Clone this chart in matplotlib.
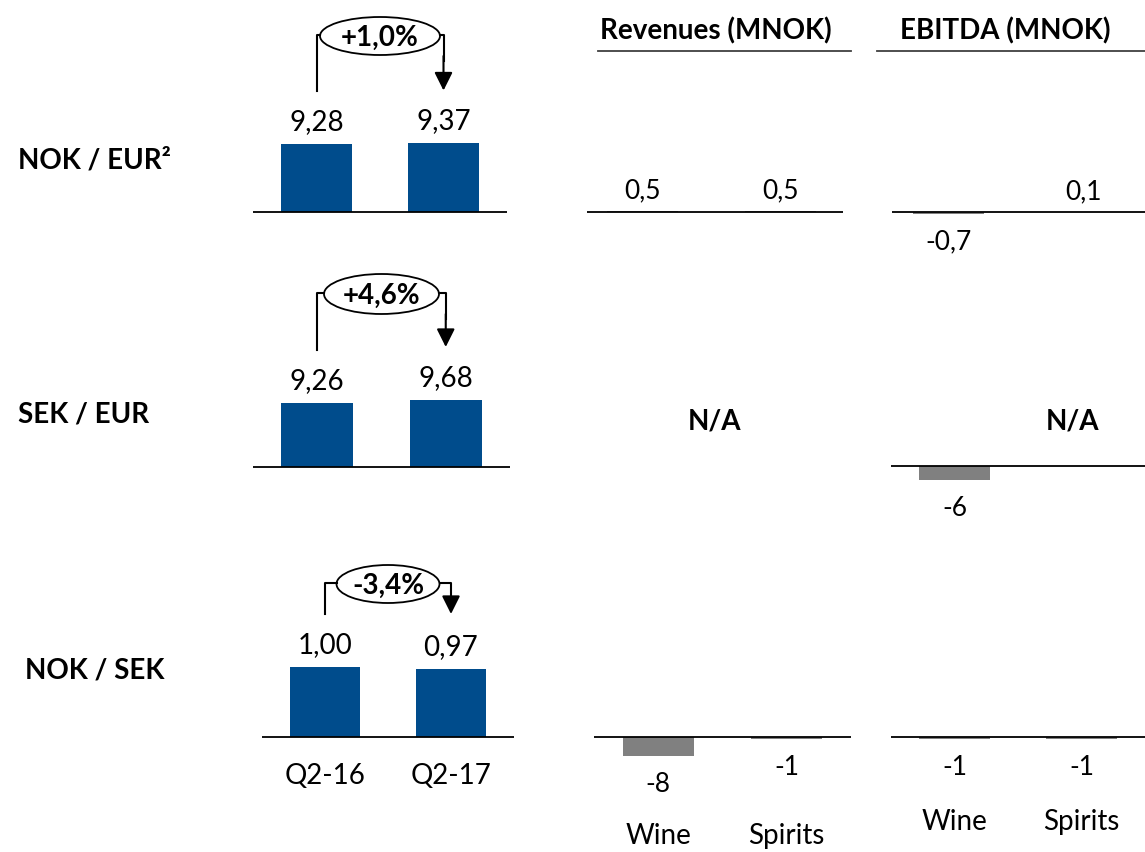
import matplotlib
matplotlib.use('Agg')

import matplotlib.pyplot as plt
from matplotlib.patches import Ellipse

plt.rcParams['font.family'] = ['Lato', 'DejaVu Sans']

# data
fx_labels = ["NOK / EUR²", "SEK / EUR", "NOK / SEK"]
periods = ["Q2-16", "Q2-17"]
fx_q216 = [9.28, 9.26, 1.00]
fx_q217 = [9.37, 9.68, 0.97]
fx_change = ["+1,0%", "+4,6%", "-3,4%"]

segments = ["Wine", "Spirits"]
rev_impact = [[0.5, 0.5], None, [-8, -1]]
ebitda_impact = [[-0.7, 0.1], [-6, None], [-1, -1]]

BLUE = '#004C8C'
GREY = '#808080'
W, H = 1145, 853
BOLD = 20

fig = plt.figure(figsize=(W / 100, H / 100), dpi=100)

# overlay in pixel coordinates for connectors / header rules
ov = fig.add_axes([0, 0, 1, 1])
ov.set_xlim(0, W)
ov.set_ylim(H, 0)
ov.axis('off')


def px_axes(x0, x1, y0, y1):
    # y0 top, y1 bottom (pixels from top)
    return fig.add_axes([x0 / W, 1 - y1 / H, (x1 - x0) / W, (y1 - y0) / H])


def fmt(v, nd):
    if v == int(v) and nd == 0:
        return "%d" % v
    return ("%.*f" % (nd, v)).replace(".", ",")


# ---- currency panels ----
fx_geom = [  # x0, x1, baseline, px per unit, label y (center)
    (253, 507, 213, 68 / 9.3, 160),
    (253, 510, 468, 67 / 9.68, 415),
    (262, 514, 738, 70 / 1.0, 670),
]
ell_geom = [(37, 120, 38), (295, 115, 40), (585, 103, 38)]
lab_x = [18, 18, 25]

for k in range(3):
    x0, x1, base, ppu, ly = fx_geom[k]
    ax = px_axes(x0, x1, base - 120, base + 60)
    ax.set_xlim(-0.5, 1.5)
    ax.set_ylim(-60 / ppu, 120 / ppu)
    ax.axis('off')
    vals = [fx_q216[k], fx_q217[k]]
    ax.bar([0, 1], vals, width=0.56, color=BLUE, zorder=2)
    ax.axhline(0, color='black', lw=1.3)
    for i, v in enumerate(vals):
        ax.annotate(fmt(v, 2), (i, v), xytext=(0, 23), textcoords='offset pixels',
                    ha='center', va='center', fontsize=20)
    if k == 2:
        for i, p in enumerate(periods):
            ax.annotate(p, (i, 0), xytext=(0, -38), textcoords='offset pixels',
                        ha='center', va='center', fontsize=20)

    fig.text(lab_x[k] / W, 1 - ly / H, fx_labels[k], fontsize=BOLD, fontweight='bold',
             ha='left', va='center')

    # change bubble with connector arrow
    cx = [x0 + (i + 0.5) / 2 * (x1 - x0) for i in range(2)]
    tops = [base - v * ppu for v in vals]
    ey, ew, eh = ell_geom[k]
    emid = (cx[0] + cx[1]) / 2
    ov.add_patch(Ellipse((emid, ey), ew, eh, fill=False, ec='black', lw=1.3))
    ov.text(emid, ey + 1, fx_change[k], ha='center', va='center', fontsize=BOLD,
            fontweight='bold')
    yb0 = tops[0] - 53
    ov.plot([cx[0], cx[0], emid - ew / 2], [yb0, ey - 1, ey - 1], color='black', lw=1.5)
    ov.plot([emid + ew / 2, cx[1], cx[1]], [ey - 1, ey - 1, ey + 25], color='black', lw=1.5)
    ov.annotate("", xy=(cx[1], min(tops) - 53), xytext=(cx[1], ey + 20),
                arrowprops=dict(arrowstyle='-|>,head_length=0.5,head_width=0.25',
                                mutation_scale=22, lw=1.5,
                                color='black', shrinkA=0, shrinkB=0))

# ---- headers ----
fig.text(600 / W, 1 - 31 / H, "Revenues (MNOK)", fontsize=BOLD, fontweight='bold',
         ha='left', va='center')
fig.text(900 / W, 1 - 31 / H, "EBITDA (MNOK)", fontsize=BOLD, fontweight='bold',
         ha='left', va='center')
ov.plot([598, 851], [52, 52], color='#404040', lw=1.3)
ov.plot([877, 1145], [52, 52], color='#404040', lw=1.3)

# ---- impact panels ----
PPU = 2.4
rev_geom = [(587, 843, 213, (-0.4, 1.45)), None, (594, 851, 738, (-0.5, 1.5))]
ebi_geom = [(892, 1145, 213, (-0.415, 1.459)), (891, 1145, 467, (-0.5, 1.5)),
            (891, 1145, 738, (-0.5, 1.5))]


def impact_panel(geom, vals, seg_off):
    x0, x1, base, xl = geom
    ax = px_axes(x0, x1, base - 120, base + 120)
    ax.set_xlim(*xl)
    ax.set_ylim(-120 / PPU, 120 / PPU)
    ax.axis('off')
    bw = 71 / ((x1 - x0) / (xl[1] - xl[0]))
    for i, v in enumerate(vals):
        if v is None:
            ax.annotate("N/A", (i - 0.07, 0), xytext=(0, 45), textcoords='offset pixels',
                        ha='center', va='center', fontsize=BOLD, fontweight='bold')
            continue
        ax.bar(i, v, width=bw, color=GREY, zorder=1)
        nd = 0 if v == int(v) else 1
        off = 21 if v > 0 else -27
        ax.annotate(fmt(v, nd), (i, v), xytext=(0, off), textcoords='offset pixels',
                    ha='center', va='center', fontsize=19)
    ax.axhline(0, color='black', lw=1.3, zorder=2)
    if seg_off:
        for i, s in enumerate(segments):
            ax.annotate(s, (i, 0), xytext=(0, -seg_off), textcoords='offset pixels',
                        ha='center', va='center', fontsize=20)


for k in range(3):
    if rev_impact[k] is not None:
        impact_panel(rev_geom[k], rev_impact[k], 98 if k == 2 else 0)
    else:
        fig.text(714 / W, 1 - 422 / H, "N/A", fontsize=BOLD, fontweight='bold',
                 ha='center', va='center')
    impact_panel(ebi_geom[k], ebitda_impact[k], 84 if k == 2 else 0)

fig.savefig('out.png', dpi=100)
